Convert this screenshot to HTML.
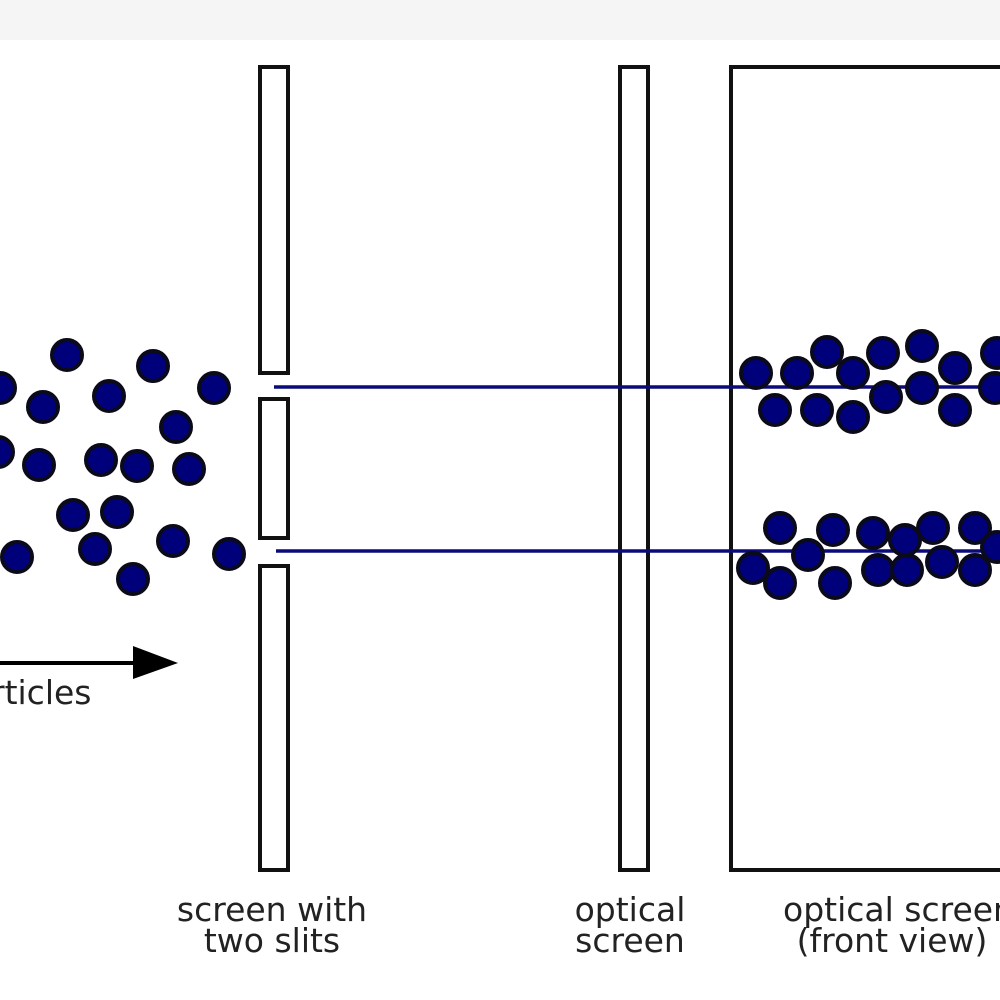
<!DOCTYPE html>
<html><head><style>body{margin:0;background:#fff}</style></head><body>
<svg width="1000" height="1000" xmlns="http://www.w3.org/2000/svg" style="display:block">
<rect x="0" y="0" width="1000" height="40" fill="#f5f5f5"/>
<g fill="#fff" stroke="#111" stroke-width="4">
<rect x="260" y="67" width="28" height="306"/>
<rect x="260" y="399" width="28" height="139"/>
<rect x="260" y="566" width="28" height="304"/>
<rect x="620" y="67" width="28" height="803"/>
<rect x="731" y="67" width="290" height="803"/>
</g>
<g stroke="#0a0a7a" stroke-width="3.5">
<line x1="274" y1="387" x2="1000" y2="387"/>
<line x1="276" y1="551" x2="1000" y2="551"/>
</g>
<g fill="#00007a" stroke="#0a0a1a" stroke-width="4">
<circle cx="67" cy="355" r="15"/><circle cx="153" cy="366" r="15"/><circle cx="0" cy="388" r="15"/>
<circle cx="43" cy="407" r="15"/><circle cx="109" cy="396" r="15"/><circle cx="214" cy="388" r="15"/>
<circle cx="176" cy="427" r="15"/><circle cx="-2" cy="452" r="15"/><circle cx="39" cy="465" r="15"/>
<circle cx="101" cy="460" r="15"/><circle cx="137" cy="466" r="15"/><circle cx="189" cy="469" r="15"/>
<circle cx="73" cy="515" r="15"/><circle cx="117" cy="512" r="15"/><circle cx="17" cy="557" r="15"/>
<circle cx="95" cy="549" r="15"/><circle cx="173" cy="541" r="15"/><circle cx="229" cy="554" r="15"/>
<circle cx="133" cy="579" r="15"/>
<circle cx="756" cy="373" r="15"/><circle cx="797" cy="373" r="15"/><circle cx="827" cy="352" r="15"/>
<circle cx="853" cy="373" r="15"/><circle cx="883" cy="353" r="15"/><circle cx="922" cy="346" r="15"/>
<circle cx="955" cy="368" r="15"/><circle cx="997" cy="353" r="15"/><circle cx="775" cy="410" r="15"/>
<circle cx="817" cy="410" r="15"/><circle cx="853" cy="417" r="15"/><circle cx="886" cy="397" r="15"/>
<circle cx="922" cy="388" r="15"/><circle cx="955" cy="410" r="15"/><circle cx="995" cy="388" r="15"/>
<circle cx="780" cy="528" r="15"/><circle cx="833" cy="530" r="15"/><circle cx="873" cy="533" r="15"/>
<circle cx="905" cy="540" r="15"/><circle cx="933" cy="528" r="15"/><circle cx="975" cy="528" r="15"/>
<circle cx="997" cy="547" r="15"/><circle cx="753" cy="568" r="15"/><circle cx="780" cy="583" r="15"/>
<circle cx="808" cy="555" r="15"/><circle cx="835" cy="583" r="15"/><circle cx="878" cy="570" r="15"/>
<circle cx="907" cy="570" r="15"/><circle cx="942" cy="562" r="15"/><circle cx="975" cy="570" r="15"/>
</g>
<line x1="0" y1="663" x2="140" y2="663" stroke="#000" stroke-width="4"/>
<polygon points="133,646 178,663 133,679" fill="#000"/>
<g font-family="DejaVu Sans, sans-serif" font-size="33" fill="#222" text-anchor="middle">
<text x="-9" y="704" text-anchor="start">rticles</text>
<text x="272" y="921">screen with</text>
<text x="272" y="952">two slits</text>
<text x="630" y="921">optical</text>
<text x="630" y="952">screen</text>
<text x="783" y="921" text-anchor="start">optical screen</text>
<text x="892" y="952">(front view)</text>
</g>
</svg>
</body></html>
